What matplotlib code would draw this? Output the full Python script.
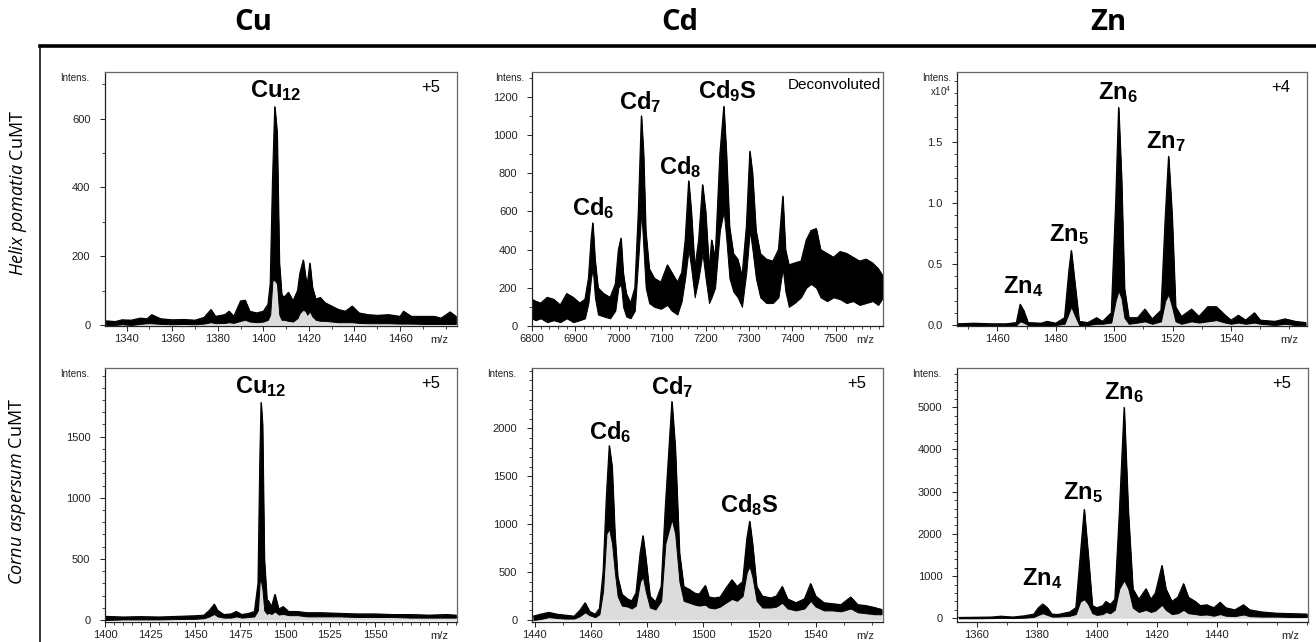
import matplotlib
matplotlib.use('Agg')
import matplotlib.pyplot as plt
from matplotlib.lines import Line2D
from matplotlib.ticker import MultipleLocator

plt.rcParams['font.family'] = ['Liberation Sans', 'DejaVu Sans']
plt.rcParams['mathtext.fontset'] = 'custom'
plt.rcParams['mathtext.rm'] = 'Liberation Sans'
plt.rcParams['mathtext.bf'] = 'Liberation Sans:bold'
plt.rcParams['mathtext.it'] = 'Open Sans:italic'

# ---- spectra: m/z, upper edge of trace, lower edge of trace ----
# Helix pomatia CuMT, Cu, +5
hp_cu_mz = [1331, 1335, 1338, 1342, 1346, 1349, 1351, 1355, 1360, 1365, 1370, 1374, 1377, 1379,
            1383, 1385, 1387, 1390, 1392, 1394, 1397, 1400, 1402, 1403, 1404, 1405, 1406, 1407,
            1408, 1409, 1411, 1413, 1415, 1416, 1417.5, 1418.5, 1419.3, 1420.4, 1421.5, 1423,
            1425, 1427, 1430, 1433, 1436, 1439, 1442, 1446, 1450, 1455, 1460, 1461.5, 1465,
            1470, 1475, 1478, 1482, 1484.5]
hp_cu_top = [12, 10, 15, 14, 20, 18, 30, 18, 15, 16, 14, 22, 45, 25,
             30, 40, 25, 70, 72, 40, 35, 40, 60, 120, 420, 635, 560, 180,
             90, 80, 95, 70, 100, 150, 189, 140, 120, 180, 110, 75,
             80, 65, 55, 45, 40, 55, 35, 30, 28, 30, 25, 40, 25,
             25, 25, 20, 38, 25]
hp_cu_low = [0, 0, 2, 0, 3, 5, 5, 3, 2, 3, 2, 4, 8, 5,
             6, 8, 6, 12, 15, 10, 8, 10, 15, 30, 130, 130, 120, 30,
             15, 15, 12, 10, 20, 35, 45, 40, 30, 40, 25, 15,
             12, 12, 10, 8, 8, 8, 6, 5, 5, 5, 4, 4, 4,
             3, 3, 3, 3, 3]

# Helix pomatia CuMT, Cd, deconvoluted
hp_cd_mz = [6800, 6808, 6820, 6835, 6850, 6865, 6880, 6895, 6910, 6922, 6930, 6936, 6940, 6945,
            6952, 6965, 6980, 6992, 6999, 7005, 7010, 7017, 7027, 7037, 7045, 7052, 7057, 7062,
            7070, 7082, 7097, 7112, 7122, 7135, 7145, 7153, 7161, 7167, 7175, 7184, 7193, 7200,
            7208, 7214, 7222, 7233, 7242, 7248, 7255, 7264, 7274, 7284, 7294, 7302, 7308, 7316,
            7326, 7340, 7355, 7368, 7378, 7384, 7392, 7405, 7420, 7432, 7443, 7455, 7465, 7480,
            7495, 7510, 7525, 7540, 7555, 7570, 7585, 7598, 7609]
hp_cd_top = [140, 130, 120, 150, 140, 110, 170, 150, 120, 140, 250, 450, 540, 350,
             200, 170, 150, 220, 400, 460, 280, 170, 120, 200, 600, 1100, 900, 500,
             300, 250, 230, 320, 280, 230, 280, 450, 760, 600, 300, 450, 740, 600,
             300, 450, 350, 900, 1150, 900, 520, 380, 350, 260, 520, 915, 800, 500,
             380, 350, 340, 400, 680, 400, 320, 330, 340, 450, 500, 510, 400, 380,
             360, 390, 380, 360, 340, 350, 330, 300, 260]
hp_cd_low = [40, 30, 40, 20, 30, 20, 40, 20, 30, 40, 120, 250, 300, 150,
             60, 50, 40, 80, 200, 220, 100, 50, 40, 80, 350, 600, 400, 200,
             120, 100, 90, 110, 80, 60, 130, 250, 400, 300, 150, 250, 380, 250,
             120, 150, 200, 500, 600, 450, 250, 180, 150, 100, 280, 500, 400, 250,
             150, 120, 120, 150, 300, 180, 100, 120, 150, 200, 220, 200, 150, 130,
             150, 140, 120, 130, 110, 120, 130, 110, 150]

# Helix pomatia CuMT, Zn, +4 (x10^4)
hp_zn_mz = [1446.5, 1452, 1458, 1463, 1466.5, 1467.8, 1469, 1470.5, 1475, 1477, 1480, 1483,
            1484.5, 1485.3, 1486.5, 1488, 1491, 1494, 1496, 1499, 1500.5, 1501.5, 1502.5,
            1503.5, 1505, 1508, 1510.5, 1513, 1516, 1517.5, 1518.6, 1519.8, 1521, 1523,
            1526.5, 1529, 1532, 1535, 1538, 1540, 1542.5, 1545, 1548, 1550, 1555, 1558.5,
            1562, 1565.5]
hp_zn_top = [0.01, 0.015, 0.01, 0.01, 0.02, 0.17, 0.12, 0.02, 0.015, 0.03, 0.015, 0.06,
             0.45, 0.61, 0.35, 0.03, 0.02, 0.06, 0.03, 0.10, 1.00, 1.78, 1.20,
             0.30, 0.06, 0.06, 0.13, 0.05, 0.12, 0.90, 1.38, 0.90, 0.15, 0.07,
             0.13, 0.07, 0.15, 0.15, 0.08, 0.04, 0.08, 0.04, 0.10, 0.04, 0.03, 0.05,
             0.03, 0.02]
hp_zn_low = [0.0, 0.0, 0.0, 0.0, 0.0, 0.03, 0.02, 0.0, 0.0, 0.0, 0.0, 0.01,
             0.10, 0.15, 0.08, 0.0, 0.0, 0.01, 0.01, 0.02, 0.20, 0.28, 0.22,
             0.06, 0.01, 0.02, 0.03, 0.01, 0.03, 0.20, 0.25, 0.15, 0.03, 0.01,
             0.03, 0.02, 0.03, 0.04, 0.02, 0.01, 0.02, 0.01, 0.02, 0.01, 0.0, 0.01,
             0.0, 0.0]

# Cornu aspersum CuMT, Cu, +5
ca_cu_mz = [1400, 1410, 1420, 1430, 1440, 1450, 1455, 1458, 1460.7, 1462.5, 1466, 1470, 1473,
            1476, 1480, 1483, 1485, 1486, 1486.7, 1487.5, 1488.5, 1490, 1490.7, 1492.5, 1494.4,
            1496.5, 1499, 1502, 1507, 1512, 1520, 1530, 1540, 1550, 1560, 1570, 1580, 1590,
            1595]
ca_cu_top = [30, 25, 28, 25, 30, 35, 40, 80, 130, 80, 45, 50, 70,
             45, 55, 70, 300, 1300, 1780, 1600, 500, 150, 160, 110, 210,
             90, 110, 70, 70, 60, 60, 55, 50, 50, 45, 45, 40, 45,
             40]
ca_cu_low = [0, 5, 5, 5, 8, 10, 15, 30, 50, 30, 20, 20, 30,
             20, 25, 30, 80, 320, 320, 250, 80, 50, 60, 50, 70,
             45, 50, 40, 40, 30, 30, 30, 25, 25, 25, 20, 20, 20,
             20]

# Cornu aspersum CuMT, Cd, +5
ca_cd_mz = [1439.5, 1442, 1445, 1448, 1451, 1454, 1456, 1457.9, 1459.5, 1461.5, 1463, 1464.3,
            1465.5, 1466.5, 1467.5, 1468.5, 1469.5, 1471, 1473, 1474.5, 1476, 1477.5, 1478.5,
            1479.5, 1481, 1483, 1485, 1486.5, 1488.8, 1490, 1491.5, 1493, 1495, 1497, 1498.5,
            1500.7, 1502, 1504, 1506, 1508, 1510.2, 1512, 1514, 1515.5, 1516.5, 1517.5, 1519,
            1521, 1524, 1526, 1528.1, 1530, 1533, 1536, 1538.2, 1540, 1543, 1546, 1549, 1552.5,
            1555, 1558, 1561, 1563.5]
ca_cd_top = [40, 60, 80, 60, 50, 40, 100, 180, 90, 60, 120, 500,
             1300, 1820, 1600, 900, 450, 270, 220, 200, 280, 700, 880,
             650, 250, 190, 350, 1200, 2280, 1800, 700, 350, 320, 280, 270,
             360, 240, 230, 240, 330, 420, 350, 400, 850, 1030, 800, 350,
             250, 230, 250, 350, 220, 180, 220, 380, 250, 180, 170, 160, 240,
             160, 150, 130, 110]
ca_cd_low = [0, 10, 30, 20, 15, 15, 40, 80, 50, 30, 60, 300,
             900, 950, 800, 500, 250, 150, 140, 120, 150, 400, 450,
             300, 130, 110, 200, 800, 1050, 900, 400, 200, 180, 160, 150,
             160, 130, 120, 140, 180, 220, 200, 250, 500, 560, 450, 200,
             130, 130, 140, 180, 120, 100, 120, 200, 140, 100, 100, 90, 120,
             80, 70, 60, 60]

# Cornu aspersum CuMT, Zn, +5
ca_zn_mz = [1354, 1360, 1365, 1368, 1372, 1376, 1379, 1380.5, 1382, 1383.5, 1385, 1387, 1389,
            1391, 1393, 1394.5, 1395.8, 1397, 1398.5, 1400, 1402, 1403, 1404.5, 1406, 1407.5,
            1409.1, 1410.5, 1412, 1414, 1416.4, 1418, 1419.5, 1421.7, 1423, 1425, 1427, 1428.9,
            1430.5, 1432.8, 1434.5, 1436.7, 1439, 1441.1, 1443, 1446, 1448.9, 1451, 1455, 1460,
            1465, 1470]
ca_zn_top = [20, 25, 30, 50, 30, 60, 100, 250, 340, 250, 100, 90, 120,
             150, 250, 1500, 2580, 1600, 300, 250, 300, 400, 330, 450, 2500,
             5000, 2500, 700, 450, 700, 450, 600, 1250, 700, 400, 500, 820,
             500, 400, 300, 320, 250, 380, 250, 200, 320, 200, 150, 120,
             110, 100]
ca_zn_low = [0, 0, 5, 10, 5, 15, 30, 80, 120, 80, 40, 40, 50,
             60, 100, 400, 450, 350, 120, 80, 100, 150, 120, 200, 700,
             900, 700, 250, 150, 200, 150, 180, 320, 200, 100, 120, 200,
             120, 100, 80, 90, 60, 100, 60, 50, 90, 50, 40, 40,
             30, 30]

# ---- labels ----
col_titles = ['Cu', 'Cd', 'Zn']
row_titles = [r'$\mathit{Helix\ pomatia}$ CuMT', r'$\mathit{Cornu\ aspersum}$ CuMT']

W, H = 1316, 642
fig = plt.figure(figsize=(W / 100, H / 100), dpi=100)

def px_axes(left, top, right, bottom):
    return fig.add_axes([left / W, (H - bottom) / H, (right - left) / W, (bottom - top) / H])

panels = [
    dict(box=(105, 72, 457, 326), mz=hp_cu_mz, top=hp_cu_top, low=hp_cu_low, grey=True,
         xlim=(1330.5, 1485), ylim=(-3, 736), xt=range(1340, 1461, 20), xm=10,
         yt=range(0, 601, 200), ym=100, yfmt='%d', tag='+5', intens=16,
         peaks=[(r'$\mathbf{Cu_{12}}$', 1405.5, 645)]),
    dict(box=(532, 72, 883, 326), mz=hp_cd_mz, top=hp_cd_top, low=hp_cd_low, grey=False,
         xlim=(6800, 7609), ylim=(0, 1330), xt=range(6800, 7501, 100), xm=20,
         yt=range(0, 1201, 200), ym=100, yfmt='%d', tag='Deconvoluted', intens=8,
         peaks=[(r'$\mathbf{Cd_{6}}$', 6940, 550), (r'$\mathbf{Cd_{7}}$', 7050, 1105),
                (r'$\mathbf{Cd_{8}}$', 7142, 765), (r'$\mathbf{Cd_{9}S}$', 7249, 1165)]),
    dict(box=(957, 72, 1307, 326), mz=hp_zn_mz, top=hp_zn_top, low=hp_zn_low, grey=True,
         xlim=(1446.2, 1566), ylim=(-0.008, 2.07), xt=range(1460, 1541, 20), xm=10,
         yt=[0.0, 0.5, 1.0, 1.5], ym=0.1, yfmt='%.1f', tag='+4', intens=6,
         peaks=[(r'$\mathbf{Zn_{4}}$', 1468.7, 0.21), (r'$\mathbf{Zn_{5}}$', 1484.6, 0.64),
                (r'$\mathbf{Zn_{6}}$', 1501.4, 1.8), (r'$\mathbf{Zn_{7}}$', 1517.8, 1.4)]),
    dict(box=(105, 368, 457, 622), mz=ca_cu_mz, top=ca_cu_top, low=ca_cu_low, grey=True,
         xlim=(1400, 1595.6), ylim=(-16, 2062), xt=range(1400, 1551, 25), xm=5,
         yt=range(0, 1501, 500), ym=100, yfmt='%d', tag='+5', intens=16,
         peaks=[(r'$\mathbf{Cu_{12}}$', 1486.6, 1810)]),
    dict(box=(532, 368, 883, 622), mz=ca_cd_mz, top=ca_cd_top, low=ca_cd_low, grey=True,
         xlim=(1439, 1564), ylim=(-21, 2630), xt=range(1440, 1541, 20), xm=10,
         yt=range(0, 2001, 500), ym=100, yfmt='%d', tag='+5', intens=16,
         peaks=[(r'$\mathbf{Cd_{6}}$', 1467, 1830), (r'$\mathbf{Cd_{7}}$', 1488.8, 2300),
                (r'$\mathbf{Cd_{8}S}$', 1516.2, 1060)]),
    dict(box=(957, 368, 1308, 622), mz=ca_zn_mz, top=ca_zn_top, low=ca_zn_low, grey=True,
         xlim=(1353.4, 1470.4), ylim=(-88, 5931), xt=range(1360, 1441, 20), xm=10,
         yt=range(0, 5001, 1000), ym=200, yfmt='%d', tag='+5', intens=16,
         peaks=[(r'$\mathbf{Zn_{4}}$', 1381.8, 640), (r'$\mathbf{Zn_{5}}$', 1395.5, 2690),
                (r'$\mathbf{Zn_{6}}$', 1408.9, 5060)]),
]

for i, p in enumerate(panels):
    ax = px_axes(*p['box'])
    if p['grey']:
        ax.fill_between(p['mz'], 0, p['low'], color='#dcdcdc', lw=0)
    ax.fill_between(p['mz'], p['low'], p['top'], color='black', lw=0.7)
    ax.plot(p['mz'], p['top'], color='black', lw=0.8)
    ax.set_xlim(*p['xlim'])
    ax.set_ylim(*p['ylim'])

    ax.set_xticks(list(p['xt']))
    ax.set_xticklabels([str(v) for v in p['xt']])
    ax.xaxis.set_minor_locator(MultipleLocator(p['xm']))
    ax.set_yticks(list(p['yt']))
    ax.set_yticklabels([p['yfmt'] % v for v in p['yt']])
    ax.yaxis.set_minor_locator(MultipleLocator(p['ym']))
    ax.tick_params(axis='both', which='major', direction='out', length=3.5, width=0.7,
                   labelsize=8, colors='#222222')
    ax.tick_params(axis='x', which='major', pad=2.5)
    ax.tick_params(axis='y', which='major', pad=7)
    ax.tick_params(axis='both', which='minor', direction='out', length=2, width=0.6, colors='#222222')
    for side in ['top', 'right']:
        ax.spines[side].set_color('#666666')
        ax.spines[side].set_linewidth(0.9)
    for side in ['left', 'bottom']:
        ax.spines[side].set_color('#222222')
        ax.spines[side].set_linewidth(0.9)

    ax.annotate('m/z', xy=(0.95, 0), xycoords='axes fraction', xytext=(0, -6.3),
                textcoords='offset points', ha='center', va='top', fontsize=8, color='#222222')
    ax.annotate('Intens.', xy=(0, 1), xycoords='axes fraction',
                xytext=(-p['intens'] * 0.72, -4), textcoords='offset points',
                ha='right', va='center', fontsize=7, color='#222222')
    if i == 2:
        ax.annotate(r'x10$^4$', xy=(0, 1), xycoords='axes fraction', xytext=(-6 * 0.72, -14),
                    textcoords='offset points', ha='right', va='center', fontsize=7,
                    color='#222222')

    if p['tag'] == 'Deconvoluted':
        ax.text(0.995, 0.95, p['tag'], transform=ax.transAxes, ha='right', va='center',
                fontsize=11)
    else:
        ax.text(0.925, 0.94, p['tag'], transform=ax.transAxes, ha='center', va='center',
                fontsize=12)

    for label, x, y in p['peaks']:
        ax.text(x, y, label, ha='center', va='bottom', fontsize=17)

# column headers
for x, t in zip([253, 680, 1108], col_titles):
    fig.text(x / W, 1 - 23 / H, t, ha='center', va='center', fontsize=21,
             fontweight='bold', family=['Open Sans', 'DejaVu Sans'])

# row labels
for y, t in zip([193, 491], row_titles):
    fig.text(18 / W, 1 - y / H, t, ha='center', va='center', rotation=90, fontsize=13,
             family=['Open Sans', 'DejaVu Sans'])

# frame lines
fig.add_artist(Line2D([40 / W, 1.0], [1 - 46 / H, 1 - 46 / H], color='black', lw=2.6,
                      transform=fig.transFigure))
fig.add_artist(Line2D([40 / W, 40 / W], [1 - 46 / H, 0], color='black', lw=1.1,
                      transform=fig.transFigure))

fig.savefig('out.png', dpi=100)
